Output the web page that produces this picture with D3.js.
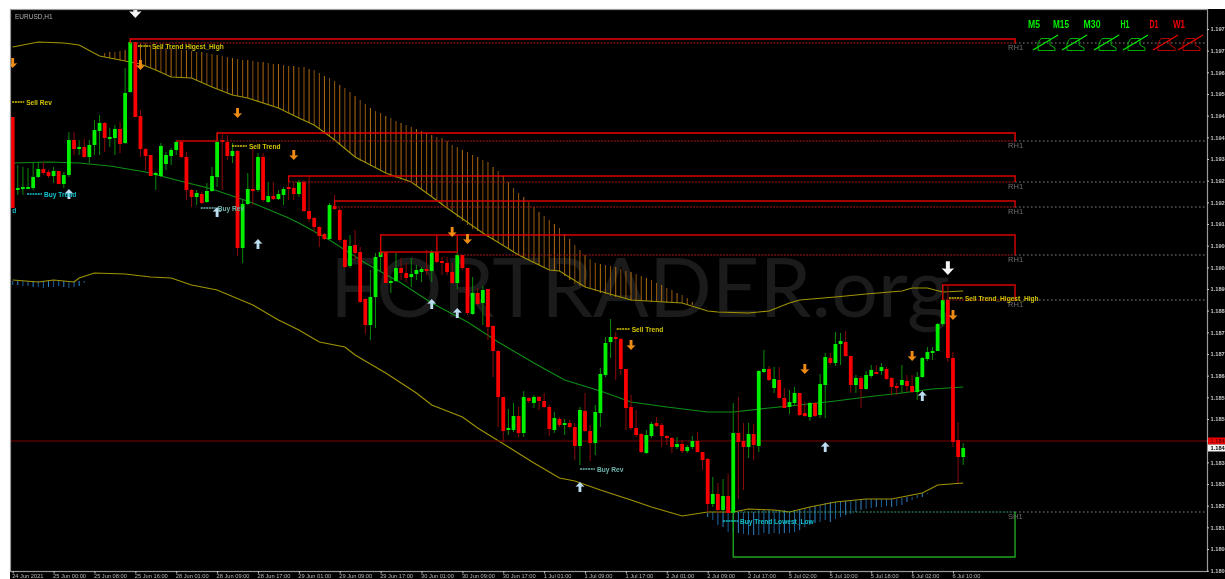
<!DOCTYPE html>
<html><head><meta charset="utf-8">
<script src="https://cdn.jsdelivr.net/npm/d3@7"></script>
<style>
html,body{margin:0;padding:0;background:#000;overflow:hidden}
svg{display:block;filter:blur(0.45px)}
text{font-family:"Liberation Sans",sans-serif}
</style></head><body>
<svg id="c" width="1225" height="579"></svg>
<script>
// prices are stored in points (1 point = 0.00001)
const opens=[119466,119247,119253,119253,119253,119286,119310,119301,119289,119304,
119265,119292,119397,119373,119376,119346,119382,119424,119448,119403,
119403,119430,119388,119541,119691,119469,119370,119352,119292,119289,
119325,119349,119367,119391,119346,119247,119226,119235,119211,119244,
119286,119397,119391,119349,119364,119073,119205,119250,119247,119346,
119211,119229,119220,119232,119256,119253,119235,119271,119184,119163,
119136,119115,119100,119199,119187,119097,119019,119082,119061,118920,
118842,118926,119046,119061,118968,118974,119013,118998,118986,118995,
119001,119010,119004,119061,119034,119028,119001,118968,119052,119013,
118875,118938,118908,118950,118839,118764,118626,118527,118527,118569,
118518,118623,118608,118626,118614,118596,118527,118560,118542,118548,
118536,118479,118584,118524,118488,118578,118692,118791,118806,118800,
118710,118596,118533,118515,118458,118509,118548,118542,118509,118503,
118476,118485,118464,118476,118494,118461,118440,118305,118335,118287,
118329,118278,118518,118494,118476,118515,118479,118701,118710,118653,
118677,118623,118596,118608,118638,118578,118566,118608,118572,118662,
118743,118728,118785,118791,118749,118662,118683,118650,118689,118701,
118704,118710,118683,118659,118662,118674,118659,118641,118686,118740,
118761,118764,118845,118917,118743,118497,118446];
const highs=[119466,119322,119316,119313,119328,119331,119331,119307,119316,119304,
119301,119421,119421,119397,119400,119397,119457,119472,119451,119433,
119442,119451,119613,119697,119691,119487,119373,119352,119301,119388,
119361,119373,119397,119394,119361,119250,119247,119241,119268,119316,
119418,119412,119412,119388,119367,119217,119298,119376,119358,119358,
119271,119271,119247,119256,119292,119271,119277,119277,119292,119166,
119139,119118,119208,119232,119193,119100,119112,119127,119076,118923,
119007,119058,119112,119061,118983,119058,119043,119028,119043,119022,
119016,119067,119067,119109,119046,119046,119028,119112,119052,119013,
118986,118953,118959,118950,118842,118767,118626,118590,118608,118596,
118644,118626,118632,118629,118638,118602,118581,118566,118560,118557,
118548,118596,118638,118542,118602,118713,118806,118860,118821,118803,
118710,118632,118587,118518,118527,118551,118566,118548,118512,118506,
118506,118497,118482,118509,118521,118461,118443,118386,118368,118380,
118395,118608,118626,118548,118548,118545,118707,118767,118719,118716,
118716,118653,118647,118656,118638,118611,118611,118611,118695,118758,
118758,118821,118818,118824,118749,118692,118689,118704,118722,118722,
118728,118716,118686,118668,118722,118692,118692,118701,118746,118776,
118776,118848,118962,118962,118761,118551,118488];
const lows=[119193,119232,119232,119253,119247,119283,119292,119283,119268,119265,
119253,119286,119352,119352,119343,119328,119352,119352,119361,119376,
119352,119358,119385,119538,119466,119346,119307,119289,119247,119286,
119307,119322,119352,119343,119217,119196,119202,119205,119208,119241,
119256,119247,119337,119328,119049,119028,119202,119202,119241,119211,
119208,119217,119217,119202,119217,119217,119226,119181,119151,119121,
119076,119097,119097,119187,119091,119013,119013,119037,118908,118815,
118797,118833,119001,118968,118938,118971,118977,118971,118956,118977,
118971,118992,118971,119028,118992,118992,118965,118950,119007,118872,
118872,118902,118842,118797,118686,118536,118491,118512,118521,118506,
118506,118608,118593,118587,118593,118509,118518,118536,118512,118533,
118437,118422,118521,118434,118452,118536,118686,118743,118677,118692,
118527,118527,118506,118458,118455,118503,118536,118476,118482,118458,
118470,118458,118458,118470,118458,118407,118281,118296,118278,118281,
118278,118278,118320,118347,118443,118437,118461,118698,118674,118638,
118620,118593,118575,118602,118569,118566,118554,118566,118563,118563,
118722,118719,118722,118746,118638,118638,118593,118647,118683,118698,
118692,118677,118632,118632,118638,118641,118638,118617,118683,118734,
118737,118764,118839,118731,118476,118368,118422];
const closes=[119193,119253,119256,119256,119286,119310,119298,119289,119304,119265,
119292,119397,119370,119376,119346,119382,119427,119448,119403,119406,
119430,119385,119538,119691,119466,119370,119349,119289,119298,119379,
119352,119367,119391,119346,119247,119226,119238,119208,119244,119289,
119391,119391,119349,119364,119073,119205,119250,119247,119346,119217,
119229,119220,119235,119250,119250,119235,119271,119184,119160,119136,
119109,119100,119202,119190,119097,119016,119079,119058,118911,118842,
118926,119046,119061,118968,118974,119013,118998,118983,118995,119007,
119010,119007,119061,119031,119028,119001,118968,119052,119013,118878,
118938,118905,118947,118836,118764,118626,118524,118533,118569,118518,
118626,118614,118626,118614,118596,118530,118563,118542,118548,118536,
118479,118587,118524,118488,118581,118695,118788,118806,118800,118710,
118593,118533,118512,118461,118512,118545,118539,118509,118503,118476,
118485,118464,118476,118494,118461,118437,118305,118335,118287,118329,
118278,118518,118491,118476,118515,118482,118704,118710,118677,118680,
118623,118593,118611,118638,118572,118569,118608,118569,118665,118746,
118728,118785,118794,118749,118662,118683,118650,118692,118707,118698,
118716,118680,118656,118656,118677,118659,118641,118686,118743,118761,
118764,118845,118917,118743,118491,118446,118473];

const upperIdx=[0,5,10,13,17,20,23,25,28,31,35,39,43,46,52,56,59,63,67,73,78,81,85,92,99,105,107,112,121,131,136,138,144,148,152,154,161,167,174,176,179,182,186];
const upperVal=[119676,119691,119688,119682,119649,119640,119631,119625,119607,119586,119583,119556,119532,119523,119493,119463,119442,119397,119346,119298,119271,119238,119193,119118,119052,119007,119004,118956,118917,118908,118884,118881,118878,118884,118908,118917,118926,118935,118944,118953,118953,118941,118944];
const midIdx=[0,7,13,19,26,32,39,47,54,56,62,69,76,82,89,95,102,108,115,121,128,136,141,148,154,161,167,174,180,186];
const midVal=[119328,119331,119328,119319,119301,119277,119250,119208,119163,119148,119097,119028,118968,118908,118851,118791,118728,118677,118644,118611,118596,118581,118581,118593,118602,118614,118626,118638,118650,118656];
const lowerIdx=[0,5,8,12,13,16,22,27,31,35,40,47,52,56,60,65,67,73,79,82,88,91,97,102,107,110,115,121,125,131,136,141,144,149,152,156,161,167,172,178,181,186];
const lowerVal=[118977,118971,118977,118971,118983,118998,118995,118986,118983,118962,118947,118902,118857,118827,118791,118776,118752,118698,118638,118602,118566,118533,118476,118428,118383,118374,118347,118317,118296,118269,118281,118281,118290,118287,118281,118296,118311,118320,118320,118338,118362,118368];

const sellHatchStart=18;
const sellHatchTop=[119658,119661,119661,119664,119667,119673,119679,119685,119688,119682,119679,119676,119673,119673,119670,119667,119667,119664,119661,119661,119658,119655,119652,119649,119646,119643,119640,119637,119637,119634,119631,119631,119628,119625,119625,119622,119619,119619,119616,119616,119610,119607,119598,119589,119583,119574,119562,119553,119541,119529,119517,119505,119493,119484,119478,119469,119463,119454,119448,119442,119436,119430,119424,119418,119412,119406,119403,119394,119382,119376,119367,119361,119352,119346,119337,119331,119316,119304,119289,119271,119253,119238,119226,119211,119196,119181,119169,119157,119145,119133,119115,119100,119082,119067,119052,119040,119028,119025,119022,119019,119016,119010,119004,119001,118995,118989,118983,118977,118968,118962,118953,118947,118938,118932,118923,118911];
const sellHatchBot=[119646,119643,119640,119637,119634,119631,119628,119625,119619,119613,119607,119601,119592,119586,119586,119583,119583,119583,119577,119571,119562,119556,119550,119544,119538,119532,119529,119526,119523,119517,119511,119508,119502,119499,119493,119487,119478,119472,119463,119457,119448,119442,119430,119418,119409,119397,119382,119370,119358,119346,119334,119328,119319,119313,119304,119298,119289,119283,119280,119274,119271,119259,119247,119238,119226,119214,119202,119193,119181,119166,119154,119142,119130,119124,119118,119106,119097,119088,119079,119070,119061,119052,119043,119037,119031,119022,119013,119007,119004,119004,118989,118977,118965,118959,118956,118950,118944,118938,118935,118929,118926,118923,118920,118917,118917,118914,118914,118911,118911,118911,118908,118908,118908,118908,118905,118902];
const buyHatchStart=136;
const buyHatchTop=[118278,118281,118281,118281,118281,118281,118281,118281,118281,118281,118287,118287,118287,118287,118287,118287,118281,118287,118287,118293,118296,118299,118302,118308,118311,118311,118311,118314,118314,118317,118320,118320,118320,118320,118320,118320,118320,118320,118323,118326,118326,118332,118338,118338];
const buyHatchBot=[118266,118257,118242,118236,118221,118218,118218,118215,118212,118212,118212,118218,118215,118218,118215,118218,118218,118221,118227,118236,118242,118248,118251,118257,118251,118260,118266,118272,118275,118281,118287,118290,118293,118296,118296,118299,118296,118299,118302,118311,118317,118323,118326,118335];
const earlyHatchTop=[118974,118974,118974,118974,118974,118974,118974,118974,118974,118974,118974,118974,118974,118974,118974];
const earlyHatchBot=[118962,118962,118959,118959,118956,118956,118953,118956,118956,118959,118956,118953,118956,118959,118968];

const boxStart=[23,40,54,63,72,182];
const boxTop=[119700,119418,119289,119214,119112,118962];
const boxBot=[119688,119394,119271,119196,119052,118917];
const boxDashFrom=[23,40,54,63,87,182];
const boxLabel=["RH1","RH1","RH1","RH1","RH1","RH1"];
const supportStart=141, supportTop=118281, supportBot=118146, supportLabel="SH1";
const innerFrom=[32,72], innerTo=[40,87], innerLevel=[119394,119061];
const innerVert=[83,87], innerVertTop=119112, innerVertBot=119061;
const lastPrice=118494;

const sellArrowIdx=[0,25,44,55,86,89,121,155,176,184];
const sellArrowVal=[119628,119622,119478,119352,119121,119100,118782,118710,118749,118872];
const buyArrowIdx=[11,40,48,82,87,111,178,159];
const buyArrowVal=[119235,119181,119085,118905,118878,118356,118629,118476];
const whiteArrowIdx=[183,24];
const whiteArrowVal=[119013,119784];

const noteText=["Sell Rev","Buy Trend","d","Buy Rev","Sell Trend","Sell Trend  Higest_High","Sell Trend","Buy Rev","Buy Trend Lowest_Low","Sell Trend_Higest_High"];
const noteIdx=[-0.1,2.8,-0.1,36.8,42.9,24.5,118.2,111,139,183.2];
const noteVal=[119511,119235,119187,119193,119379,119679,118830,118410,118254,118923];
const noteKind=["sell","buy","buy","rev","sell","sell","sell","rev","buy","sell"];
const noteDash=[12,15,0,15,15,12,13,15,15,14];

const yTickVals=[119730,119665,119600,119535,119470,119405,119340,119275,119210,119145,119080,119015,118950,118885,118820,118755,118690,118625,118560,118495,118430,118365,118300,118235,118170,118105];
const yTickLabels=["1.197","1.197","1.196","1.195","1.194","1.194","1.193","1.192","1.192","1.191","1.190","1.190","1.189","1.188","1.187","1.187","1.186","1.185","1.185","1.184","1.183","1.183","1.182","1.181","1.180","1.180"];
const xTickLabels=["24 Jun 2021","25 Jun 00:00","25 Jun 08:00","25 Jun 16:00","28 Jun 01:00","28 Jun 09:00","28 Jun 17:00","29 Jun 01:00","29 Jun 09:00","29 Jun 17:00","30 Jun 01:00","30 Jun 09:00","30 Jun 17:00","1 Jul 01:00","1 Jul 09:00","1 Jul 17:00","2 Jul 01:00","2 Jul 09:00","2 Jul 17:00","5 Jul 02:00","5 Jul 10:00","5 Jul 18:00","6 Jul 02:00","6 Jul 10:00"];
const frames=["M5","M15","M30","H1","D1","W1"];
const frameUp=[true,true,true,true,false,false];
const symbol="EURUSD,H1", watermark="FORTRADER.org";

const L=11,T=10,R=1207,B=571;
const x=d3.scaleLinear().domain([0,186]).range([12.7,963.2]);
const y=d3.scaleLinear().domain([119787,118104]).range([T,B]);
const boxRight=x(196.15);
const svg=d3.select("#c");
svg.append("rect").attr("width",1225).attr("height",579).attr("fill","#000");
svg.append("rect").attr("width",1225).attr("height",9).attr("fill","#fff");
svg.append("rect").attr("width",10).attr("height",579).attr("fill","#fff");
svg.append("clipPath").attr("id","pl").append("rect").attr("x",L).attr("y",T).attr("width",R-L).attr("height",B-T);
const plot=svg.append("g").attr("clip-path","url(#pl)");

// watermark
plot.append("text").attr("x",330).attr("y",317).attr("textLength",620).attr("lengthAdjust","spacingAndGlyphs")
 .attr("font-size",81).attr("fill","#1b1b1b").style("font-family","Lato,'Open Sans',sans-serif").style("font-weight",400).text(watermark);

// hatches
function hatch(tops,bots,start,col){
 plot.append("g").selectAll("line").data(tops).join("line")
  .attr("x1",(d,i)=>x(start+i)).attr("x2",(d,i)=>x(start+i))
  .attr("y1",d=>y(d)).attr("y2",(d,i)=>y(bots[i]))
  .attr("stroke",(d,i)=>col[(start+i)%col.length]).attr("stroke-width",1);
}
hatch(sellHatchTop,sellHatchBot,sellHatchStart,["#9a5c0c","#b56d10","#8a5310"]);
hatch(buyHatchTop,buyHatchBot,buyHatchStart,["#1f6aa8","#2f86cc","#1c5f96"]);
hatch(earlyHatchTop,earlyHatchBot,0,["#1f6aa8","#2f86cc","#1c5f96"]);

// moving averages
const ln=d3.line().x(d=>x(d[0])).y(d=>y(d[1]));
function series(idx,val,col,w){
 plot.append("path").attr("d",ln(idx.map((k,i)=>[k,val[i]]))).attr("fill","none").attr("stroke",col).attr("stroke-width",w);
}
series(upperIdx,upperVal,"#a09400",1.1);
series(lowerIdx,lowerVal,"#a09400",1.1);
series(midIdx,midVal,"#0c8f14",1.1);

// level lines
plot.append("line").attr("x1",L).attr("x2",R).attr("y1",y(lastPrice)).attr("y2",y(lastPrice)).attr("stroke","#7a0000").attr("stroke-width",1.2);
boxBot.forEach(p=>{
 plot.append("line").attr("x1",boxRight).attr("x2",R).attr("y1",y(p)).attr("y2",y(p)).attr("stroke","#8a8a8a").attr("stroke-dasharray","1.5 2.5");
});
plot.append("line").attr("x1",boxRight).attr("x2",R).attr("y1",y(supportTop)).attr("y2",y(supportTop)).attr("stroke","#8a8a8a").attr("stroke-dasharray","1.5 2.5");

// candles
const g=plot.append("g");
opens.forEach((o,i)=>{
 const up=closes[i]>=o;
 g.append("line").attr("x1",x(i)).attr("x2",x(i)).attr("y1",y(highs[i])).attr("y2",y(lows[i]))
  .attr("stroke",up?"#0a8a0a":"#8e0a0a").attr("stroke-width",1);
 const t=y(Math.max(o,closes[i])),b=y(Math.min(o,closes[i]));
 g.append("rect").attr("x",x(i)-1.9).attr("width",3.8).attr("y",t).attr("height",Math.max(b-t,2)).attr("fill",up?"#00f000":"#f80000");
});

// boxes
boxStart.forEach((s,i)=>{
 const x0=x(s),yt=y(boxTop[i]),yb=y(boxBot[i]);
 const col=i<2?"#ee0000":"#d80000";
 plot.append("path").attr("d",`M${x0},${yb}V${yt}H${boxRight}V${yb}`).attr("fill","none").attr("stroke",col).attr("stroke-width",1.4);
 plot.append("line").attr("x1",x(boxDashFrom[i])).attr("x2",boxRight).attr("y1",yb).attr("y2",yb).attr("stroke","#b01818").attr("stroke-dasharray","2 1.2").attr("stroke-width",1.2);
 plot.append("text").attr("x",boxRight-7).attr("y",yb+7).attr("font-size",7.5).attr("fill","#6f6f6f").text(boxLabel[i]);
});
innerLevel.forEach((p,i)=>{
 plot.append("line").attr("x1",x(innerFrom[i])).attr("x2",x(innerTo[i])).attr("y1",y(p)).attr("y2",y(p)).attr("stroke","#d00000").attr("stroke-width",1.7);
});
innerVert.forEach(k=>{
 plot.append("line").attr("x1",x(k)).attr("x2",x(k)).attr("y1",y(innerVertTop)).attr("y2",y(innerVertBot)).attr("stroke","#c80000").attr("stroke-width",1.3);
});
{
 const x0=x(supportStart),yt=y(supportTop),yb=y(supportBot);
 plot.append("path").attr("d",`M${x0},${yt}V${yb}H${boxRight}V${yt}`).attr("fill","none").attr("stroke","#1fa51f").attr("stroke-width",1.4);
 plot.append("line").attr("x1",x0).attr("x2",boxRight).attr("y1",yt).attr("y2",yt).attr("stroke","#3f9f6f").attr("stroke-dasharray","2 1.5");
 plot.append("text").attr("x",boxRight-7).attr("y",yt+7).attr("font-size",7.5).attr("fill","#6f6f6f").text(supportLabel);
}

// arrows
function arrow(s,dir){ // dir: +1 points down
 const p=d3.path();
 p.moveTo(-s*0.16,-dir*s*0.55);p.lineTo(s*0.16,-dir*s*0.55);p.lineTo(s*0.16,dir*s*0.05);p.lineTo(s*0.5,dir*s*0.02);
 p.lineTo(0,dir*s*0.55);p.lineTo(-s*0.5,dir*s*0.02);p.lineTo(-s*0.16,dir*s*0.05);p.closePath();
 return p.toString();
}
function arrows(idx,val,s,dir,col){
 plot.append("g").selectAll("path").data(idx).join("path")
  .attr("transform",(k,i)=>`translate(${x(k)},${y(val[i])})`).attr("d",arrow(s,dir)).attr("fill",col);
}
arrows(sellArrowIdx,sellArrowVal,9,1,"#f08c14");
arrows(buyArrowIdx,buyArrowVal,9,-1,"#bcdcf0");
arrows(whiteArrowIdx,whiteArrowVal,12.5,1,"#f4f4f4");

// notes
const noteCol={sell:"#d4c400",buy:"#10c0cc",rev:"#6fb4ac"};
noteText.forEach((t,i)=>{
 const x0=x(noteIdx[i]),yy=y(noteVal[i]),c=noteCol[noteKind[i]],d=noteDash[i];
 if(d>0) plot.append("line").attr("x1",x0).attr("x2",x0+d).attr("y1",yy).attr("y2",yy).attr("stroke",c).attr("stroke-width",1.6).attr("stroke-dasharray","2 0.7");
 plot.append("text").attr("x",x0+(d?d+2:0)).attr("y",yy+2.5).attr("font-size",6.6).attr("font-weight","bold").attr("fill",c).text(t);
});

svg.append("text").attr("x",15).attr("y",18.5).attr("font-size",6.5).attr("fill","#b0b0b0").text(symbol);

// timeframe panel
const frameX=[1034,1061,1092,1125,1154,1179],frameW=[12,16,17,9,9,12],iconX=[1033,1062,1094,1123,1153,1178];
frames.forEach((f,i)=>{
 const c=frameUp[i]?"#00f000":"#f00000",c2=frameUp[i]?"#00b000":"#b00000";
 svg.append("text").attr("x",frameX[i]).attr("y",28).attr("text-anchor","middle").attr("font-size",11).attr("font-weight","bold")
  .attr("textLength",frameW[i]).attr("lengthAdjust","spacingAndGlyphs").attr("fill",c).text(f);
 const ig=svg.append("g").attr("transform",`translate(${iconX[i]},0)`);
 ig.append("path").attr("d","M5,50V43L8,38.5H17V45L22,48V50.5H5Z").attr("fill","none").attr("stroke",c2).attr("stroke-width",1);
 ig.append("line").attr("x1",0).attr("y1",50).attr("x2",25).attr("y2",35).attr("stroke",c).attr("stroke-width",1.1);
});

// frame
svg.append("rect").attr("x",L-0.5).attr("y",T-0.5).attr("width",R-L+1).attr("height",B-T+1).attr("fill","none").attr("stroke","#9a9a9a").attr("stroke-width",1.2);

// axes
const yAxis=d3.axisRight(y).tickValues(yTickVals).tickSize(2).tickFormat((d,i)=>yTickLabels[i]);
const ya=svg.append("g").attr("transform",`translate(${R},0)`).call(yAxis);
ya.select(".domain").remove();
ya.selectAll("line").attr("stroke","#c8c8c8");
ya.selectAll("text").attr("x",3.5).attr("font-size",5.7).attr("font-weight","bold").attr("fill","#c4c4c4");
const xt=xTickLabels.map((d,i)=>i*8);
const xAxis=d3.axisBottom(x).tickValues(xt).tickSize(2.5).tickFormat((d,i)=>xTickLabels[i]);
const xa=svg.append("g").attr("transform",`translate(0,${B})`).call(xAxis);
xa.select(".domain").remove();
xa.selectAll("line").attr("stroke","#c8c8c8");
xa.selectAll("text").attr("text-anchor","start").attr("x",-1).attr("y",3).attr("font-size",5.7).attr("fill","#b8b8b8");

// price flags
svg.append("rect").attr("x",R+1).attr("y",y(lastPrice)-3.5).attr("width",18).attr("height",7).attr("fill","#f00000");
svg.append("text").attr("x",R+3.5).attr("y",y(lastPrice)+2.2).attr("font-size",5.7).attr("font-weight","bold").attr("fill","#600").text("1.184");
svg.append("rect").attr("x",R+1).attr("y",y(lastPrice)+3.5).attr("width",18).attr("height",7).attr("fill","#f4f4f4");
svg.append("text").attr("x",R+3.5).attr("y",y(lastPrice)+9.2).attr("font-size",5.7).attr("font-weight","bold").attr("fill","#000").text("1.184");
</script></body></html>
